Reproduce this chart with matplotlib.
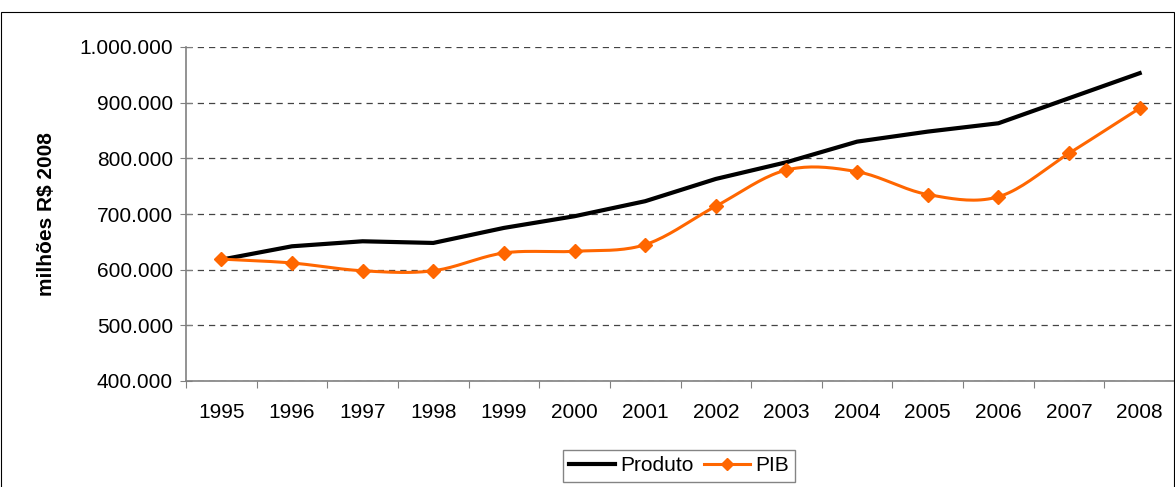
import numpy as np
import matplotlib.pyplot as plt
from matplotlib.patches import Rectangle
from matplotlib.ticker import FuncFormatter, FixedLocator

plt.rcParams['font.family'] = ['Liberation Sans', 'DejaVu Sans']

# dados (mil R$ de 2008)
anos = ['1995', '1996', '1997', '1998', '1999', '2000', '2001',
        '2002', '2003', '2004', '2005', '2006', '2007', '2008']
produto = [618000, 642000, 651000, 648000, 675000, 696000, 723000,
           763000, 793000, 830000, 848000, 863000, 908000, 953000]
pib = [619000, 612000, 598000, 598000, 630000, 633000, 645000,
       714000, 779000, 776000, 735000, 731000, 809000, 890000]


def suave(x, y, n=20):
    # curva suavizada tipo excel (catmull-rom) so para desenhar a linha
    x = np.asarray(x, float)
    y = np.asarray(y, float)
    px = np.concatenate([[2 * x[0] - x[1]], x, [2 * x[-1] - x[-2]]])
    py = np.concatenate([[2 * y[0] - y[1]], y, [2 * y[-1] - y[-2]]])
    xs, ys = [], []
    t = np.linspace(0, 1, n, endpoint=False)
    for i in range(1, len(px) - 2):
        for p, out in ((px, xs), (py, ys)):
            p0, p1, p2, p3 = p[i - 1], p[i], p[i + 1], p[i + 2]
            out.extend(0.5 * (2 * p1 + (-p0 + p2) * t
                              + (2 * p0 - 5 * p1 + 4 * p2 - p3) * t ** 2
                              + (-p0 + 3 * p1 - 3 * p2 + p3) * t ** 3))
    xs.append(x[-1])
    ys.append(y[-1])
    return xs, ys


fig = plt.figure(figsize=(11.75, 4.87), dpi=100)
ax = fig.add_axes([186 / 1175, 1 - 381 / 487, 1 - 186 / 1175, (381 - 47) / 487])

x = np.arange(len(anos))
ax.plot(x, produto, color='black', lw=3, label='Produto', zorder=3)
sx, sy = suave(x, pib)
ax.plot(sx, sy, color='#FF6600', lw=2.2, zorder=4)
ax.plot(x, pib, ls='none', marker='D', ms=7, color='#FF6600', zorder=5)
ax.plot([], [], color='#FF6600', lw=2.2, marker='D', ms=6, label='PIB')

ax.set_xlim(-0.5, len(anos) - 0.5)
ax.set_ylim(400000, 1000000)
ax.set_yticks(np.arange(400000, 1000001, 100000))
ax.yaxis.set_major_formatter(FuncFormatter(lambda v, p: f'{int(v):,}'.replace(',', '.')))
ax.yaxis.grid(True, ls=(0, (5, 4)), color='#444444', lw=0.9)

ax.xaxis.set_major_locator(FixedLocator(np.arange(-0.5, len(anos), 1)))
ax.xaxis.set_minor_locator(FixedLocator(x))
ax.set_xticklabels([])
ax.set_xticklabels(anos, minor=True)
ax.tick_params(axis='x', which='major', length=5, color='#808080', direction='out')
ax.tick_params(axis='x', which='minor', length=0, pad=16, labelsize=15)
ax.tick_params(axis='y', length=9, color='#808080', direction='inout', pad=5, labelsize=15)

for s in ['top', 'right']:
    ax.spines[s].set_visible(False)
for s in ['left', 'bottom']:
    ax.spines[s].set_color('#808080')
    ax.spines[s].set_linewidth(1.2)

ax.set_ylabel('milhões R$ 2008', fontsize=15, fontweight='bold')
ax.yaxis.set_label_coords(-130 / 990, 0.5)

fig.legend(loc='upper center', bbox_to_anchor=(679 / 1175, 1 - 450 / 487),
           ncol=2, frameon=True, fancybox=False, edgecolor='#666666',
           fontsize=15, handlelength=2.2, handletextpad=0.25, columnspacing=0.5,
           borderpad=0.3, borderaxespad=0)

fig.patches.append(Rectangle((0.5 / 1175, -0.01), 1 - 1.5 / 1175, 1 - 12 / 487 + 0.01,
                             transform=fig.transFigure, fill=False, ec='black', lw=0.8))

fig.savefig('out.png', dpi=100)
